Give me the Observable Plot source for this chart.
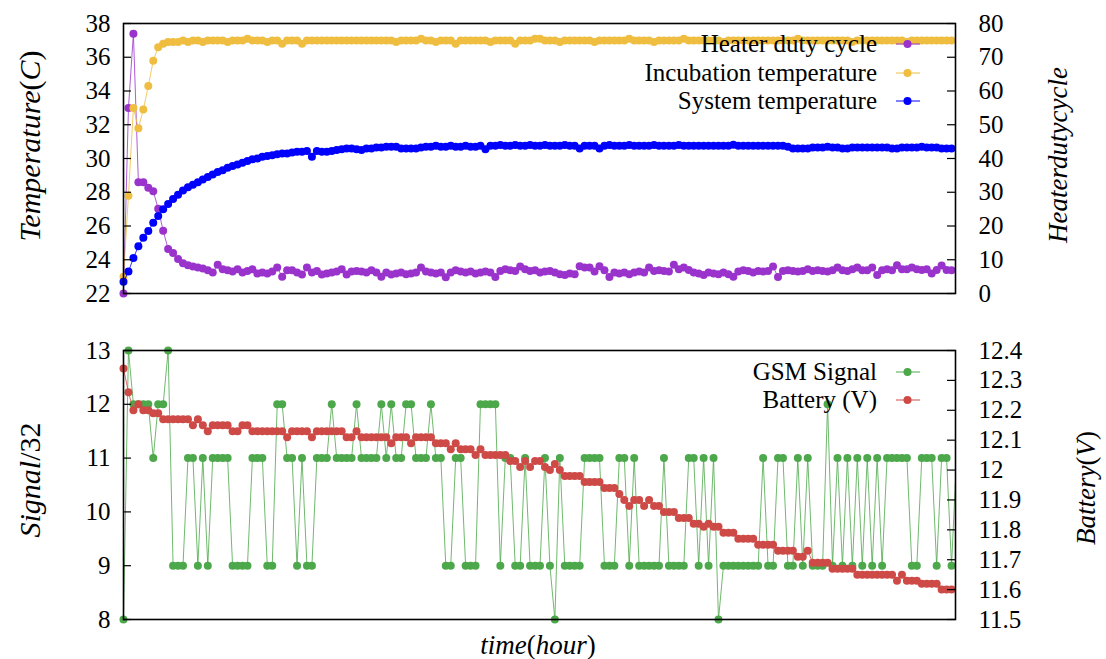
<!DOCTYPE html>
<html><head><meta charset="utf-8">
<script src="https://cdn.jsdelivr.net/npm/d3@7"></script>
<script src="https://cdn.jsdelivr.net/npm/@observablehq/plot@0.6"></script>
<style>
body{margin:0;background:#fff;}
#wrap{position:relative;width:1106px;height:659px;font-family:"Liberation Serif","Times New Roman",Times,"DejaVu Serif",serif;color:#000;overflow:hidden;}
.panel{position:absolute;left:0;}
.ttl{position:absolute;white-space:nowrap;font-size:27px;line-height:30px;}
.big{font-size:30px;}
.rot{transform:translate(-50%,-50%) rotate(-90deg);}
.hz{transform:translate(-50%,-50%);}
.leg{position:absolute;white-space:nowrap;font-size:25px;line-height:28px;text-align:right;}
.sw{position:absolute;}
i{font-style:italic;}
svg text{font-family:"Liberation Serif","Times New Roman",Times,"DejaVu Serif",serif;}
</style></head>
<body><div id="wrap"></div>
<script>
// ---- data (one reading per sample along the time axis) ----
const heaterDuty = [
0,55,77,33,33,31.3,30.3,25.1,18.6,13.2,
12.0,10.2,9.0,8.4,8.0,7.7,7.4,6.9,6.2,8.5,
7.2,6.9,6.5,7.2,6.2,6.7,7.2,5.9,6.2,5.9,
6.5,7.7,5.0,6.9,6.9,6.2,5.6,7.7,6.2,6.7,
5.6,5.9,6.2,6.5,7.2,5.6,6.5,6.7,6.5,6.2,
6.9,6.2,5.0,6.2,5.6,5.9,6.2,5.7,5.9,6.2,
7.7,6.5,6.2,5.9,6.2,4.8,6.2,6.9,6.5,6.2,
6.5,5.9,6.2,6.5,6.2,4.9,6.7,7.2,6.9,6.7,
8.0,7.2,6.7,6.9,6.2,6.5,6.7,6.2,5.7,5.5,
5.9,5.7,8.1,7.7,7.7,6.5,8.1,6.9,4.9,6.2,
5.9,6.2,5.7,6.2,6.5,6.2,7.7,6.7,6.9,6.7,
6.5,8.5,7.2,7.7,7.0,6.2,5.9,5.5,6.2,5.9,
5.7,6.2,5.7,5.0,6.5,6.9,6.7,6.2,6.7,6.5,
6.7,8.0,4.9,6.7,6.9,6.7,6.5,6.7,7.2,6.7,
6.9,6.7,6.5,6.9,7.7,6.9,6.7,7.2,7.7,6.9,
6.9,7.7,5.5,6.9,7.2,6.9,8.4,7.2,7.2,7.7,
7.2,7.0,7.2,5.9,7.0,8.3,7.0,6.9];
const incubationTemp = [
23.0,27.8,33.0,31.8,32.9,34.3,35.8,36.6,36.8,36.9,
36.9,36.9,37.0,36.9,37.0,37.0,36.9,37.0,37.0,37.0,
37.0,36.9,37.0,37.0,37.0,37.1,37.0,37.0,37.0,36.9,
37.0,37.0,36.8,37.0,37.0,37.0,36.8,37.0,37.0,37.0,
37.0,37.0,37.0,37.0,37.0,37.0,37.0,37.0,37.0,37.0,
37.0,37.0,37.0,37.0,37.0,36.9,37.0,37.0,37.0,37.0,
37.1,37.0,37.0,36.9,37.0,37.0,37.0,36.8,37.0,37.0,
37.0,37.0,37.0,37.0,36.9,37.0,37.0,37.0,37.0,36.8,
37.0,37.0,37.0,37.1,37.1,37.0,37.0,37.0,36.9,37.0,
37.0,37.0,37.0,37.0,37.0,36.9,37.0,37.0,37.0,37.0,
37.0,37.0,37.1,37.0,37.0,37.0,37.0,36.9,37.0,37.0,
37.0,37.0,37.0,37.1,37.0,37.0,37.0,37.0,37.0,37.0,
37.0,36.9,37.0,37.0,37.0,37.0,37.0,37.0,37.0,37.0,
37.0,37.0,37.0,37.0,37.0,37.0,37.1,37.0,37.0,37.0,
37.0,37.0,37.0,37.0,37.0,37.0,37.0,36.9,37.0,37.0,
37.0,37.0,37.0,37.0,37.0,37.0,37.0,37.0,36.9,37.0,
37.0,37.0,37.0,37.0,37.0,37.0,37.0,37.0];
const systemTemp = [
22.7,23.3,24.1,24.8,25.3,25.7,26.2,26.6,27.0,27.3,
27.6,27.85,28.1,28.3,28.45,28.6,28.75,28.9,29.05,29.2,
29.3,29.45,29.55,29.65,29.75,29.85,29.95,30.0,30.1,30.15,
30.2,30.25,30.3,30.3,30.35,30.4,30.4,30.45,30.1,30.45,
30.4,30.4,30.45,30.5,30.55,30.6,30.6,30.55,30.5,30.6,
30.6,30.65,30.65,30.7,30.7,30.7,30.6,30.6,30.6,30.6,
30.65,30.7,30.7,30.75,30.7,30.7,30.75,30.7,30.7,30.75,
30.7,30.7,30.75,30.55,30.75,30.75,30.8,30.75,30.75,30.8,
30.75,30.75,30.8,30.75,30.75,30.8,30.75,30.75,30.75,30.8,
30.75,30.75,30.6,30.75,30.75,30.75,30.6,30.75,30.8,30.75,
30.75,30.75,30.8,30.75,30.75,30.75,30.75,30.8,30.75,30.75,
30.75,30.75,30.8,30.75,30.75,30.75,30.75,30.75,30.75,30.75,
30.75,30.75,30.75,30.82,30.75,30.75,30.75,30.75,30.75,30.75,
30.75,30.75,30.75,30.75,30.7,30.6,30.6,30.6,30.6,30.65,
30.65,30.65,30.7,30.65,30.65,30.6,30.6,30.65,30.65,30.65,
30.65,30.65,30.65,30.65,30.65,30.6,30.6,30.65,30.65,30.65,
30.65,30.7,30.65,30.65,30.65,30.6,30.6,30.6];
const gsmSignal = [
8,13,12,12,12,12,11,12,12,13,
9,9,9,11,11,9,11,9,11,11,
11,11,9,9,9,9,11,11,11,9,
9,12,12,11,11,9,11,9,9,11,
11,11,12,11,11,11,11,12,11,11,
11,11,12,11,12,11,11,12,12,11,
11,11,12,11,11,9,9,11,11,9,
9,9,12,12,12,12,9,11,11,9,
9,11,9,9,9,11,9,8,11,9,
9,9,9,11,11,11,11,9,9,9,
11,11,9,11,9,9,9,9,9,11,
9,9,9,9,11,11,9,11,9,11,
8,9,9,9,9,9,9,9,9,11,
9,9,11,11,9,9,11,9,11,9,
9,9,12,9,11,9,11,9,11,9,
11,9,11,9,11,11,11,11,11,9,
9,11,11,11,9,11,11,9,11];
const batteryV = [
12.34,12.26,12.20,12.22,12.20,12.20,12.19,12.19,12.17,12.17,
12.17,12.17,12.17,12.17,12.15,12.17,12.15,12.13,12.15,12.15,
12.15,12.15,12.13,12.13,12.15,12.15,12.13,12.13,12.13,12.13,
12.13,12.13,12.13,12.11,12.13,12.13,12.13,12.13,12.11,12.13,
12.13,12.13,12.13,12.13,12.13,12.11,12.11,12.13,12.11,12.11,
12.11,12.11,12.11,12.11,12.09,12.11,12.11,12.11,12.09,12.11,
12.11,12.11,12.11,12.09,12.09,12.09,12.07,12.09,12.07,12.07,
12.07,12.05,12.07,12.05,12.05,12.05,12.05,12.05,12.03,12.03,
12.01,12.03,12.01,12.03,12.03,12.01,12.00,12.02,12.00,11.98,
11.98,11.98,11.98,11.96,11.96,11.96,11.96,11.94,11.94,11.94,
11.92,11.90,11.88,11.90,11.90,11.88,11.90,11.88,11.88,11.86,
11.86,11.86,11.84,11.84,11.84,11.82,11.82,11.81,11.82,11.81,
11.81,11.79,11.79,11.79,11.77,11.77,11.77,11.77,11.75,11.75,
11.75,11.75,11.73,11.73,11.73,11.73,11.71,11.71,11.73,11.69,
11.69,11.69,11.69,11.67,11.67,11.67,11.67,11.67,11.65,11.65,
11.65,11.65,11.65,11.65,11.65,11.65,11.63,11.65,11.63,11.63,
11.63,11.62,11.62,11.62,11.62,11.60,11.60,11.60];
const tempTicks = [22,24,26,28,30,32,34,36,38];
const dutyTicks = [0,10,20,30,40,50,60,70,80];
const signalTicks = [8,9,10,11,12,13];
const batteryTicks = [11.5,11.6,11.7,11.8,11.9,12,12.1,12.2,12.3,12.4];
const timeDomain = [0, 167.8];
const topLegend = ["Heater duty cycle","Incubation temperature","System temperature"];
const bottomLegend = ["GSM Signal","Battery (V)"];

const C = {purple:"#9a33cc", gold:"#efbe40", blue:"#0000ff", green:"#4ca84a", red:"#cd4a47"};
const W = 1106, ML = 123, MR = 151, PW = W - ML - MR;
const R = 4;
const FONT = "'Liberation Serif', 'Times New Roman', Times, 'DejaVu Serif', serif";
const style = {fontFamily: FONT, fontSize:"25px", color:"#000", background:"transparent", overflow:"visible"};

// right-axis mappings into the left scale
const dutyToTemp = d => 22 + (d - 0) * (38 - 22) / (80 - 0);
const tempToDuty = t => (t - 22) * (80 - 0) / (38 - 22);
const voltToSig = v => 8 + (v - 11.5) * (13 - 8) / (12.4 - 11.5);
const sigToVolt = s => 11.5 + (s - 8) * (12.4 - 11.5) / (13 - 8);

function series(vals, map, color, clipLine) {
  return [
    Plot.line(vals, {x: (d, i) => i, y: d => map(d), stroke: color, strokeWidth: 1, strokeOpacity: 0.8, clip: !!clipLine}),
    Plot.dot(vals, {x: (d, i) => i, y: d => map(d), r: R, fill: color, stroke: null, filter: (d, i) => i <= 167})
  ];
}
const id = d => d;

const topPlot = Plot.plot({
  width: W, height: 320, marginLeft: ML, marginRight: MR, marginTop: 23, marginBottom: 27,
  x: {domain: timeDomain, axis: null},
  y: {domain: [22, 38], axis: null},
  style,
  marks: [
    ...series(heaterDuty, dutyToTemp, C.purple),
    ...series(incubationTemp, id, C.gold),
    ...series(systemTemp, id, C.blue),
    Plot.ruleY(tempTicks, {insetRight: PW - 8, stroke: "#000", strokeWidth: 1.2}),
    Plot.ruleY(dutyTicks.map(dutyToTemp), {insetLeft: PW - 8, stroke: "#000", strokeWidth: 1.2}),
    Plot.axisY(tempTicks, {anchor: "left", tickSize: 0, tickPadding: 13, label: null, fontFamily: FONT, tickFormat: d => String(d)}),
    Plot.axisY(dutyTicks.map(dutyToTemp), {anchor: "right", tickSize: 0, tickPadding: 23, label: null, fontFamily: FONT,
      tickFormat: d => String(Math.round(tempToDuty(d)))}),
    Plot.frame({stroke: "#000", strokeWidth: 1.6})
  ]
});

const botPlot = Plot.plot({
  width: W, height: 339, marginLeft: ML, marginRight: MR, marginTop: 30, marginBottom: 40,
  x: {domain: timeDomain, axis: null},
  y: {domain: [8, 13], axis: null},
  style,
  marks: [
    ...series(gsmSignal, id, C.green, true),
    ...series(batteryV, voltToSig, C.red),
    Plot.ruleY(signalTicks, {insetRight: PW - 8, stroke: "#000", strokeWidth: 1.2}),
    Plot.ruleY(batteryTicks.map(voltToSig), {insetLeft: PW - 8, stroke: "#000", strokeWidth: 1.2}),
    Plot.axisY(signalTicks, {anchor: "left", tickSize: 0, tickPadding: 13, label: null, fontFamily: FONT, tickFormat: d => String(d)}),
    Plot.axisY(batteryTicks.map(voltToSig), {anchor: "right", tickSize: 0, tickPadding: 23, label: null, fontFamily: FONT,
      tickFormat: d => String(+sigToVolt(d).toFixed(1))}),
    Plot.frame({stroke: "#000", strokeWidth: 1.6})
  ]
});

const wrap = document.getElementById("wrap");
topPlot.classList.add("panel"); topPlot.style.top = "0px";
botPlot.classList.add("panel"); botPlot.style.top = "320px";
wrap.appendChild(topPlot);
wrap.appendChild(botPlot);

function addTitle(html, cx, cy, rot, big) {
  const el = document.createElement("div");
  el.className = "ttl " + (rot ? "rot" : "hz") + (big ? " big" : "");
  el.style.left = cx + "px"; el.style.top = cy + "px";
  el.innerHTML = html;
  wrap.appendChild(el);
}
addTitle("<i>Temperature</i>(<i>C</i>)", 30, 146, true, true);
addTitle("<i>Heaterdutycycle</i>", 1058, 155, true);
addTitle("<i>Signal</i>/32", 30, 480, true, true);
addTitle("<i>Battery</i>(<i>V</i>)", 1086, 488, true);
addTitle("<i>time</i>(<i>hour</i>)", 538, 645, false);

function addLegend(labels, colors, ys) {
  labels.forEach((t, k) => {
    const el = document.createElement("div");
    el.className = "leg";
    el.style.right = (W - 877) + "px";
    el.style.top = (ys[k] - 14) + "px";
    el.textContent = t;
    wrap.appendChild(el);
    const sw = document.createElementNS("http://www.w3.org/2000/svg", "svg");
    sw.setAttribute("class", "sw"); sw.setAttribute("width", 28); sw.setAttribute("height", 12);
    sw.style.left = "894px"; sw.style.top = (ys[k] - 6) + "px";
    sw.innerHTML = `<line x1="2" x2="26" y1="6" y2="6" stroke="${colors[k]}" stroke-width="1"/><circle cx="13.5" cy="6" r="${R}" fill="${colors[k]}"/>`;
    wrap.appendChild(sw);
  });
}
addLegend(topLegend, [C.purple, C.gold, C.blue], [43.5, 72.5, 100.5]);
addLegend(bottomLegend, [C.green, C.red], [371.5, 400]);
</script></body></html>
